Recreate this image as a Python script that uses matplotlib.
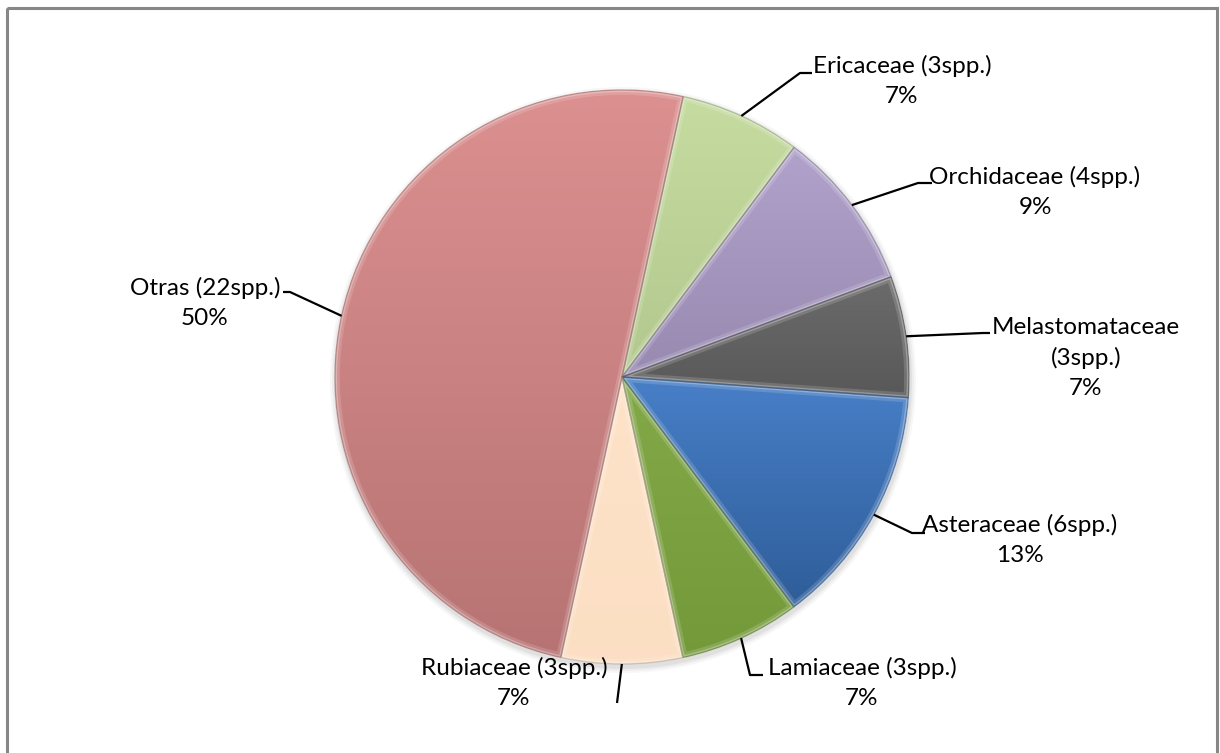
import numpy as np
import matplotlib as mpl
mpl.use('Agg')
import matplotlib.pyplot as plt
from matplotlib.colors import to_rgb
from matplotlib.patches import Rectangle, PathPatch

families = ['Ericaceae', 'Orchidaceae', 'Melastomataceae', 'Asteraceae',
            'Lamiaceae', 'Rubiaceae', 'Otras']
species = [3, 4, 3, 6, 3, 3, 22]
pct_labels = ['7%', '9%', '7%', '13%', '7%', '7%', '50%']
colors = ['#C2D99A', '#AC9CC8', '#626262', '#3C77C4', '#7BA33D', '#FEE1C5', '#DA8989']
shade = [0.92, 0.88, 0.9, 0.78, 0.94, 0.99, 0.84]

# label centres (first line) and leader elbows, in pixels
label_xy = [(902, 66), (1035, 177), (1086, 327), (1020, 525),
            (862, 668), (514, 668), (205, 288)]
elbows = [(800, 73), (918, 183), (983, 333), (912, 533),
          (750, 675), (617, 703), (290, 292)]
line_ends = [(812, 73), (932, 183), (990, 333), (925, 533),
             (763, 675), (617, 703), (283, 292)]
two_line = {'Melastomataceae'}

W, H = 1220, 753
cx, cy, R = 622, 377, 287
start = -77.7

plt.rcParams['font.family'] = ['Lato', 'DejaVu Sans']

fig = plt.figure(figsize=(W / 100, H / 100), dpi=100)
ax = fig.add_axes([0, 0, 1, 1])

# chart frame
ax.add_patch(Rectangle((7, 8), 1210, 760, fill=False, ec='#878787', lw=2.2, zorder=0))

# faint drop shadow
for k, a in [(6, 0.03), (4, 0.04), (2, 0.05)]:
    ax.add_patch(plt.Circle((cx + 1, cy + 3), R + k, color='black', alpha=a, lw=0, zorder=1))

wedges, _ = ax.pie(species, colors=colors, startangle=start, counterclock=True,
                   center=(cx, cy), radius=R, frame=True,
                   wedgeprops=dict(lw=0))
ax.set_xlim(0, W)
ax.set_ylim(H, 0)
ax.set_aspect('equal')
ax.axis('off')

# vertical shading inside every slice, plus a soft bevel along the edges
ramp = np.linspace(0, 1, 256)[:, None, None]
for w, c, s in zip(wedges, colors, shade):
    base = np.array(to_rgb(c))
    top = base + (1 - base) * 0.06
    bot = base * s
    img = top * (1 - ramp) + bot * ramp
    ext = w.get_path().get_extents(w.get_transform())
    bb = ext.transformed(ax.transData.inverted())
    y0, y1 = min(bb.y0, bb.y1), max(bb.y0, bb.y1)
    im = ax.imshow(img, extent=(bb.x0, bb.x1, y1, y0), aspect='auto',
                   interpolation='bilinear', zorder=2)
    im.set_clip_path(w)
    w.set_zorder(2)
    path = w.get_path()
    for lw, a in [(7, 0.15), (3, 0.28)]:
        hl = PathPatch(path, fill=False, ec='white', alpha=a, lw=lw, zorder=3,
                       transform=w.get_transform())
        ax.add_patch(hl)
        hl.set_clip_path(w)
    edge = PathPatch(path, fill=False, ec=tuple(base * 0.7), alpha=0.5, lw=1.0,
                     zorder=4, transform=w.get_transform())
    ax.add_patch(edge)

ax.set_xlim(0, W)
ax.set_ylim(H, 0)

# data labels with leader lines
fracs = np.array(species) / sum(species)
ang = start
for i, (fam, n, pct) in enumerate(zip(families, species, pct_labels)):
    mid = np.deg2rad(ang + fracs[i] * 180)
    ang += fracs[i] * 360
    px, py = cx + R * np.cos(mid), cy + R * np.sin(mid)
    ex, ey = elbows[i]
    lx, ly = line_ends[i]
    ax.plot([px, ex, lx], [py, ey, ly], color='black', lw=1.6, zorder=5,
            solid_capstyle='butt')
    if fam in two_line:
        lines = [fam, f'({n}spp.)', pct]
    else:
        lines = [f'{fam} ({n}spp.)', pct]
    tx, ty = label_xy[i]
    for k, ln in enumerate(lines):
        ax.text(tx, ty + k * 30.5, ln, ha='center', va='center', fontsize=17.5,
                color='black', zorder=6)

fig.savefig('out.png', dpi=100, facecolor='white')
